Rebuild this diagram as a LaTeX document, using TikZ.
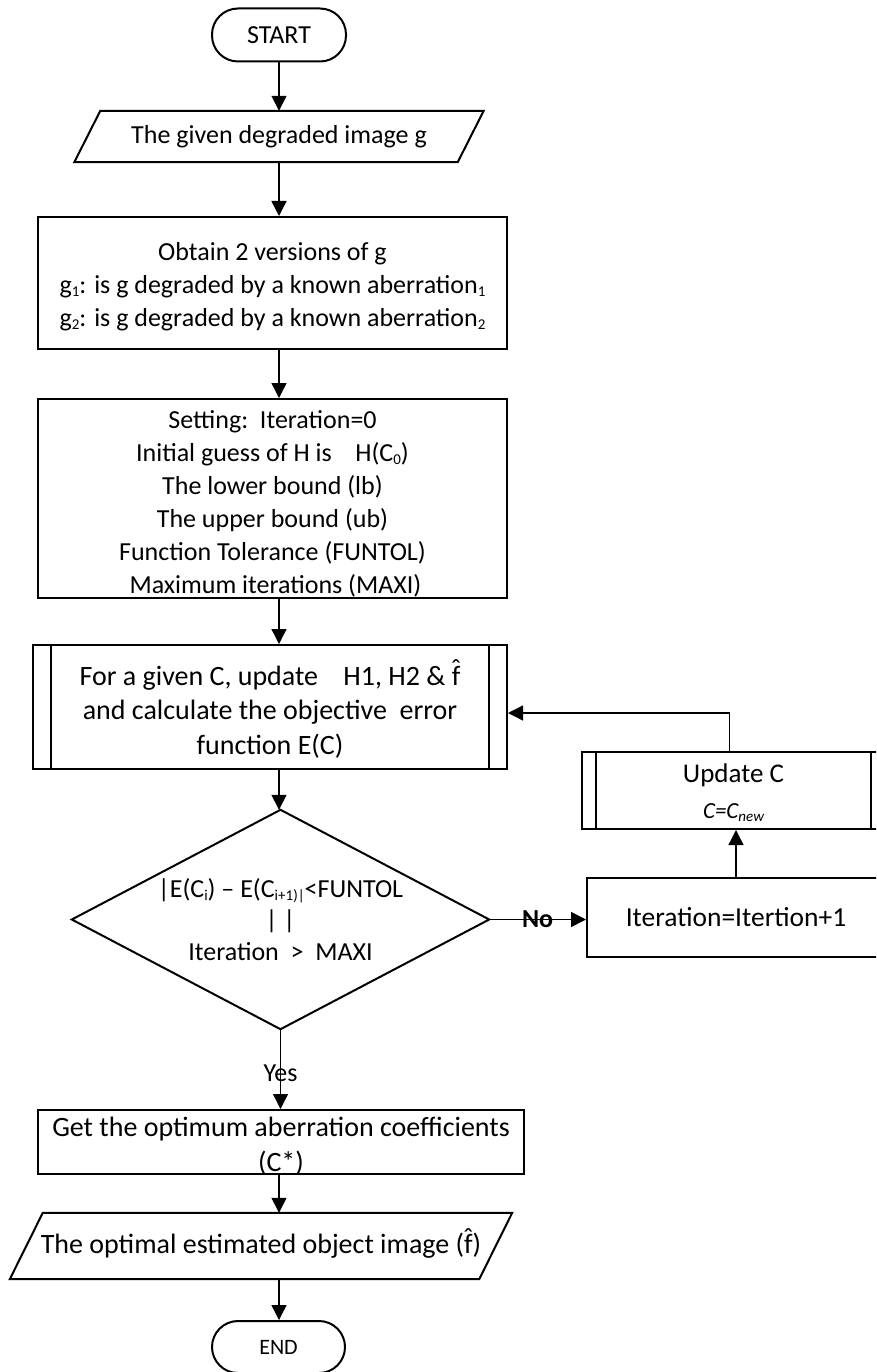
\documentclass[tikz,border=0pt]{standalone}
\usepackage{fontspec}
\setmainfont{Carlito}
\usetikzlibrary{arrows.meta,calc}
\newcommand\mysub[1]{\raisebox{-3pt}{\fontsize{15}{15}\selectfont #1}}
\newcommand\fhat{\leavevmode\hbox{\ooalign{f\cr\hidewidth\raisebox{0.24em}{ˆ}\hidewidth\cr}}}
\begin{document}
\begin{tikzpicture}[x=1pt,y=-1pt,
  every node/.style={font=\fontsize{28}{33}\selectfont, inner sep=0pt, align=center},
  boxline/.style={line width=2pt},
  procbox/.style={draw, boxline, rectangle},
  termbox/.style={draw, boxline, rectangle, rounded corners=26pt},
  ghost/.style={draw=none, rectangle},
  txt/.style={draw=none, inner sep=0pt},
  conn/.style={line width=1.4pt, -{Triangle[length=15pt,width=15pt]}},
  plain/.style={line width=1.4pt}]
\useasboundingbox (0,0) rectangle (876,1372);
\clip (0,0) rectangle (876,1372);

% START
\node[termbox, minimum width=134pt, minimum height=53pt, font=\fontsize{26}{30}\selectfont] (start) at (279,35) {START};

% input parallelogram
\node[ghost, minimum width=383pt, minimum height=51pt, font=\fontsize{26}{30}\selectfont] (in) at (279,136.5) {The given degraded image g};
\draw[boxline] ($(in.north west)+(13,0)$) -- ($(in.north east)+(13,0)$) -- ($(in.south east)+(-13,0)$) -- ($(in.south west)+(-13,0)$) -- cycle;

% box 1
\node[procbox, minimum width=469pt, minimum height=132pt] (b1) at (272.5,283) {};
\node[txt, font=\fontsize{26}{33}\selectfont, yshift=-4pt] (b1t) at (b1) {Obtain 2 versions of g\\ g\mysub{1}: is g degraded by a known aberration\mysub{1}\\ g\mysub{2}: is g degraded by a known aberration\mysub{2}};

% box 2
\node[procbox, minimum width=469pt, minimum height=199pt] (b2) at (272.5,498.5) {};
\node[txt, font=\fontsize{26}{33}\selectfont, yshift=-5pt] (b2t) at (b2) {Setting:\ \ Iteration=0\\ Initial guess of H is\ \ \ \ H(C\mysub{0})\\ The lower bound (lb)\\ The upper bound (ub)\\ Function Tolerance (FUNTOL)\\ \ Maximum iterations (MAXI)};

% box 3 (predefined process)
\node[procbox, minimum width=474pt, minimum height=124pt] (b3) at (270,707) {};
\node[txt, font=\fontsize{28}{34.5}\selectfont, yshift=-5pt] (b3t) at (b3) {For a given C, update\ \ \ \ H1, H2 \& \fhat\\ and calculate the objective\ \ error\\ function E(C)};
\draw[boxline] ($(b3.north west)+(19,0)$) -- ($(b3.south west)+(19,0)$);
\draw[boxline] ($(b3.north east)+(-19,0)$) -- ($(b3.south east)+(-19,0)$);

% decision
\node[ghost, minimum width=417pt, minimum height=219pt, font=\fontsize{26}{31.5}\selectfont] (dec) at (280.5,919.5) {|E(C\mysub{i}) -- E(C\mysub{i+1)|}<FUNTOL\\ | |\\ Iteration\ \ >\ \ MAXI};
\draw[boxline] (dec.north) -- (dec.east) -- (dec.south) -- (dec.west) -- cycle;

% box 4
\node[procbox, minimum width=486pt, minimum height=64pt] (b4) at (281,1142) {};
\node[txt, font=\fontsize{28}{35}\selectfont, yshift=-4pt] (b4t) at (b4) {Get the optimum aberration coefficients\\ (C*)};

% output parallelogram
\node[ghost, minimum width=469pt, minimum height=66pt] (out) at (261,1246) {The optimal estimated object image (\fhat)};
\draw[boxline] ($(out.north west)+(16.5,0)$) -- ($(out.north east)+(16.5,0)$) -- ($(out.south east)+(-16.5,0)$) -- ($(out.south west)+(-16.5,0)$) -- cycle;

% END
\node[termbox, minimum width=133pt, minimum height=52pt, font=\fontsize{22}{26}\selectfont] (end) at (278.5,1347) {END};

% iteration box
\node[procbox, minimum width=298pt, minimum height=79pt, font=\fontsize{27.5}{33}\selectfont] (it) at (736,917.5) {Iteration=Itertion+1};

% update C box
\node[procbox, minimum width=303pt, minimum height=77pt] (upd) at (733.5,790.5) {};
\node[txt, font=\fontsize{27}{36}\selectfont, yshift=-2pt] (updt) at (upd) {Update C\\ {\fontsize{23}{26}\selectfont\itshape C=C\raisebox{-3pt}{\fontsize{15}{15}\selectfont new}}};
\draw[boxline] ($(upd.north west)+(15,0)$) -- ($(upd.south west)+(15,0)$);
\draw[boxline] ($(upd.north east)+(-15,0)$) -- ($(upd.south east)+(-15,0)$);

% connectors
\draw[conn] (start.south) -- (start.south |- in.north);
\draw[conn] (in.south) -- (in.south |- b1.north);
\draw[conn] (b1.south -| in.south) -- (in.south |- b2.north);
\draw[conn] (b2.south -| in.south) -- (in.south |- b3.north);
\draw[conn] (b3.south -| in.south) -- (in.south |- dec.north);
\draw[conn] (dec.south) -- node[pos=0.55, font=\fontsize{26}{30}\selectfont] (yes) {Yes} (dec.south |- b4.north);
\draw[conn] (b4.south -| in.south) -- (in.south |- out.north);
\draw[conn] (out.south -| in.south) -- (in.south |- end.north);
\draw[conn] (dec.east) -- node[pos=0.5, font=\fontsize{26}{30}\selectfont\bfseries] (no) {No} (dec.east -| it.west);
\draw[conn] (it.north) -- (it.north |- upd.south);
\coordinate (turn) at ($(upd.north)+(-4,-38)$);
\draw[plain] ($(upd.north)+(-4,0)$) -- (turn);
\draw[conn] (turn) -- (turn -| b3.east);
\end{tikzpicture}
\end{document}
